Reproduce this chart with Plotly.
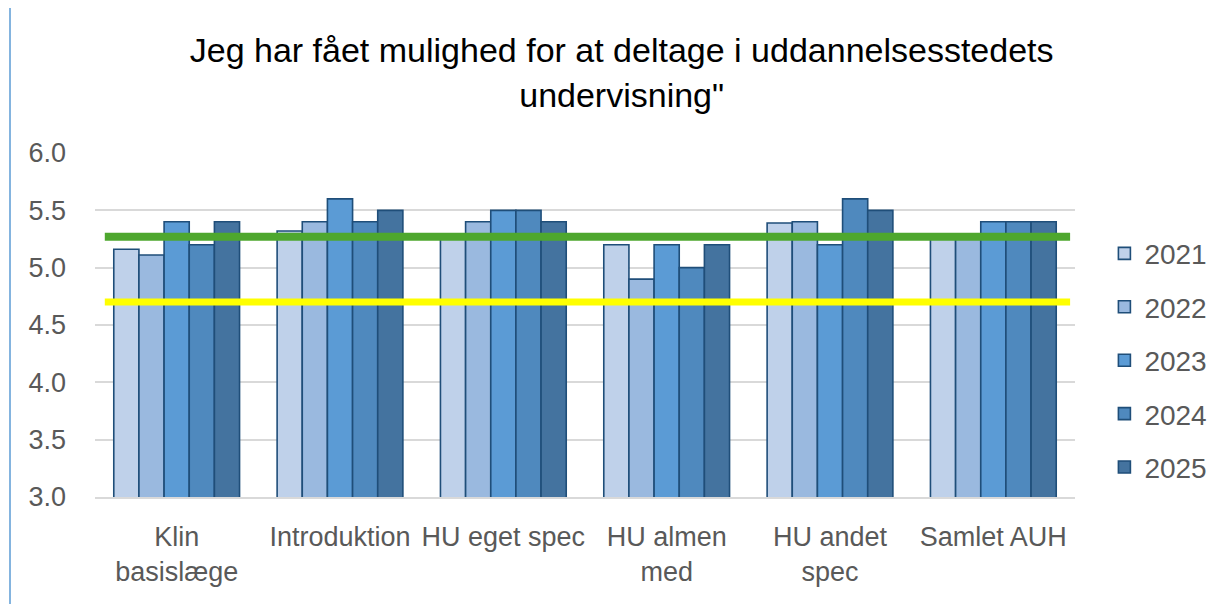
import plotly.graph_objects as go

categories = ["Klin<br>basislæge", "Introduktion", "HU eget spec", "HU almen<br>med", "HU andet<br>spec", "Samlet AUH"]
years = ["2021", "2022", "2023", "2024", "2025"]
v2021 = [5.16, 5.32, 5.27, 5.2, 5.39, 5.27]
v2022 = [5.11, 5.4, 5.4, 4.9, 5.4, 5.27]
v2023 = [5.4, 5.6, 5.5, 5.2, 5.2, 5.4]
v2024 = [5.2, 5.4, 5.5, 5.0, 5.6, 5.4]
v2025 = [5.4, 5.5, 5.4, 5.2, 5.5, 5.4]
series = [v2021, v2022, v2023, v2024, v2025]
colors = ["#BFD1EA", "#9AB9DF", "#5B9BD5", "#4F89BE", "#44739F"]
green_level = 5.27
yellow_level = 4.70

W, H = 1220, 604
ml, mr, mt, mb = 87, 153, 145, 115
FONT = "Liberation Sans, Arial, sans-serif"

fig = go.Figure()
for yr, vals, c in zip(years, series, colors):
    fig.add_trace(go.Bar(
        x=categories, y=vals, name=yr, legendgroup=yr,
        marker=dict(color=c, line=dict(color="#1F4E79", width=1.6)),
    ))

fig.add_shape(type="line", xref="x domain", yref="y", x0=0.01, x1=0.995,
              y0=yellow_level, y1=yellow_level, line=dict(color="#FFFF00", width=7), layer="above")
fig.add_shape(type="line", xref="x domain", yref="y", x0=0.01, x1=0.995,
              y0=green_level, y1=green_level, line=dict(color="#4EA72E", width=8), layer="above")

pw = W - ml - mr
ph = H - mt - mb
fig.add_shape(type="line", xref="paper", yref="paper",
              x0=(2 - ml) / pw, x1=(2 - ml) / pw,
              y0=-mb / ph, y1=1 + mt / ph, line=dict(color="#5B9BD5", width=1.5))

fig.update_layout(
    width=W, height=H,
    margin=dict(l=ml, r=mr, t=mt, b=mb, autoexpand=False),
    paper_bgcolor="white", plot_bgcolor="white",
    barmode="group", bargap=0.23, bargroupgap=0,
    font=dict(family=FONT, color="#595959"),
    title=dict(text="Jeg har fået mulighed for at deltage i uddannelsesstedets<br>undervisning\"",
               x=0.503, xanchor="center", y=0.91, yanchor="top",
               font=dict(size=34, color="#000000", family=FONT)),
    showlegend=True,
    legend=dict(x=1.03, xanchor="left", y=0.78, yanchor="top",
                font=dict(size=28, color="#595959"), tracegroupgap=14,
                traceorder="grouped", itemwidth=30),
    yaxis=dict(range=[3.0, 6.0], dtick=0.5, tickformat=".1f", automargin=False,
               showgrid=True, gridcolor="#D9D9D9", gridwidth=1.5,
               zeroline=False, showline=False, ticks="",
               tickfont=dict(size=27, color="#595959"), ticklabelstandoff=28),
    xaxis=dict(showline=True, linecolor="#D9D9D9", linewidth=1.5, ticks="", automargin=False,
               tickfont=dict(size=27, color="#595959"), ticklabelstandoff=15),
)

fig.write_html("out.html")
